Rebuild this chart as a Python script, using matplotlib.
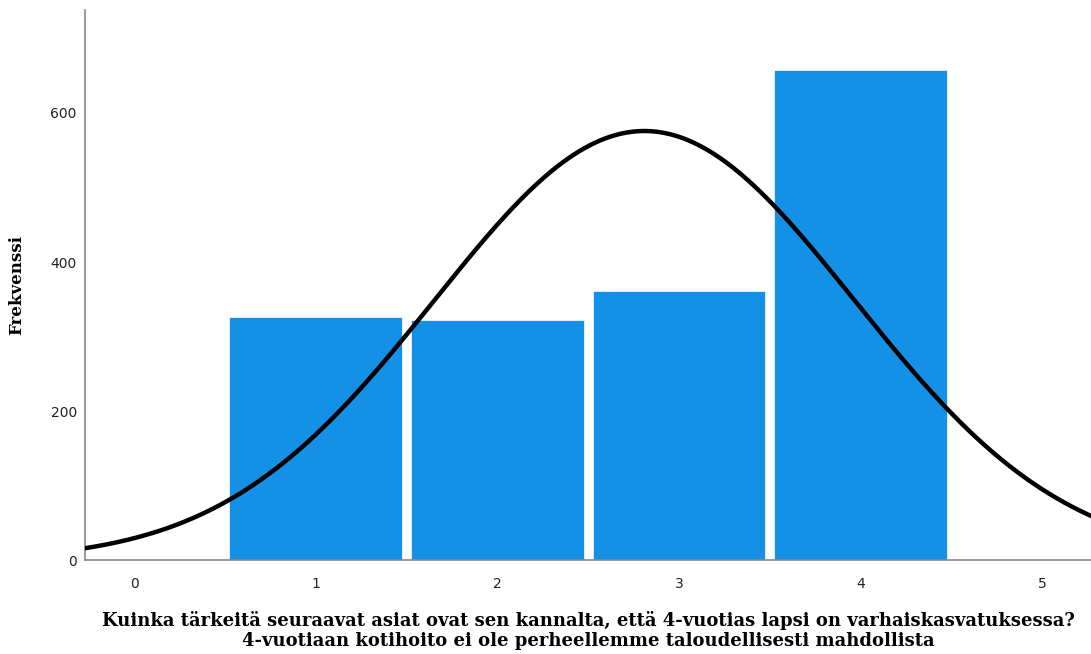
import numpy as np
import matplotlib
matplotlib.use('Agg')
import matplotlib.pyplot as plt

# frequencies
values = [1, 2, 3, 4]
counts = [326, 322, 361, 658]
xticks = [0, 1, 2, 3, 4, 5]
yticks = [0, 200, 400, 600]

xlabel = ('Kuinka tärkeitä seuraavat asiat ovat sen kannalta, että 4-vuotias lapsi on varhaiskasvatuksessa?\n'
          '4-vuotiaan kotihoito ei ole perheellemme taloudellisesti mahdollista')

# normal curve from the same data (like SPSS does)
v = np.array(values, dtype=float)
c = np.array(counts, dtype=float)
n = c.sum()
mean = (v * c).sum() / n
sd = np.sqrt(((v - mean) ** 2 * c).sum() / (n - 1))

fig = plt.figure(figsize=(10.91, 6.54), dpi=100)
ax = fig.add_axes([0.078, 0.143, 0.922, 0.842])

ax.bar(values, counts, width=0.95, color='#1490e6', edgecolor='white', linewidth=0.5, zorder=2)

xx = np.linspace(-0.4, 5.4, 400)
yy = n / (sd * np.sqrt(2 * np.pi)) * np.exp(-0.5 * ((xx - mean) / sd) ** 2)
ax.plot(xx, yy, color='black', lw=3.2, zorder=3)

ax.set_xlim(-0.27, 5.27)
ax.set_ylim(0, 738)
ax.set_xticks(xticks)
ax.set_yticks(yticks)
ax.tick_params(length=0, labelsize=10, colors='#222222')
ax.tick_params(axis='x', pad=12)
ax.tick_params(axis='y', pad=6)
for s in ['top', 'right']:
    ax.spines[s].set_visible(False)
for s in ['left', 'bottom']:
    ax.spines[s].set_color('#888888')
    ax.spines[s].set_linewidth(1.2)

ax.set_ylabel('Frekvenssi', family='DejaVu Serif', fontweight='bold', fontsize=12, labelpad=18)
ax.set_xlabel(xlabel, family='DejaVu Serif', fontweight='bold', fontsize=13, labelpad=14, linespacing=1.15)

fig.savefig('out.png', dpi=100)
